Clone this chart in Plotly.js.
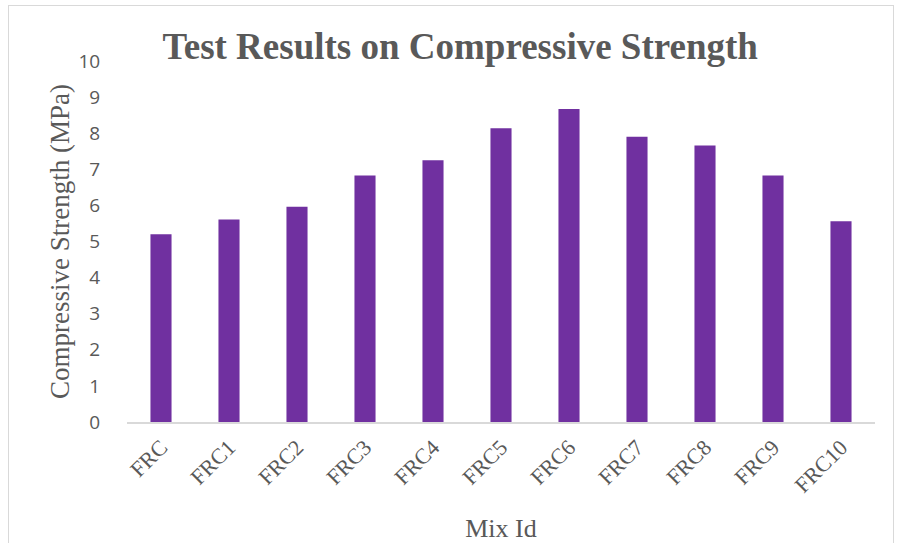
<!DOCTYPE html>
<html>
<head>
<meta charset="utf-8">
<script src="https://cdn.plot.ly/plotly-3.0.1.min.js"></script>
<style>
html,body{margin:0;padding:0;background:#fff;}
#wrap{position:relative;width:897px;height:543px;overflow:hidden;}
#frame{position:absolute;left:8px;top:5px;width:886px;height:600px;border:1px solid #d9d9d9;box-sizing:border-box;}
#chart{position:absolute;left:0;top:0;width:897px;height:543px;}
</style>
</head>
<body>
<div id="wrap"><div id="frame"></div><div id="chart"></div></div>
<script>
const categories = ["FRC","FRC1","FRC2","FRC3","FRC4","FRC5","FRC6","FRC7","FRC8","FRC9","FRC10"];
const strength = [5.2, 5.61, 5.96, 6.83, 7.25, 8.14, 8.67, 7.9, 7.66, 6.83, 5.56];
const yTicks = [0,1,2,3,4,5,6,7,8,9,10];

const grey = '#595959';
const serif = '"Liberation Serif", "Times New Roman", serif';
const sans = '"Open Sans", "Noto Sans", sans-serif';

Plotly.newPlot('chart', [{
  type: 'bar',
  x: categories,
  y: strength,
  marker: {color: '#7030A0'},
  hoverinfo: 'x+y'
}], {
  width: 897, height: 543,
  paper_bgcolor: 'rgba(0,0,0,0)',
  plot_bgcolor: 'rgba(0,0,0,0)',
  margin: {l: 127, r: 22, t: 61, b: 121},
  bargap: 0.69,
  showlegend: false,
  title: {
    text: '<b>Test Results on Compressive Strength</b>',
    font: {family: serif, size: 37, color: grey},
    x: 0.513, xanchor: 'center',
    y: 0.915, yanchor: 'middle'
  },
  xaxis: {
    type: 'category',
    tickangle: -45,
    tickfont: {family: serif, size: 22, color: grey},
    showline: true, linecolor: '#d9d9d9', linewidth: 1.5,
    showgrid: false, zeroline: false,
    ticks: 'outside', ticklen: 2, tickcolor: 'rgba(0,0,0,0)',
    title: {text: 'Mix Id', font: {family: serif, size: 26, color: grey}, standoff: 22}
  },
  yaxis: {
    range: [0, 10],
    tickvals: yTicks,
    ticktext: yTicks.map(String),
    tickfont: {family: sans, size: 19, color: grey},
    showgrid: false, zeroline: false, showline: false,
    ticks: 'outside', ticklen: 22, tickcolor: 'rgba(0,0,0,0)',
    title: {text: 'Compressive Strength (MPa)', font: {family: serif, size: 27, color: grey}, standoff: 1}
  }
}, {displayModeBar: false});
</script>
</body>
</html>
